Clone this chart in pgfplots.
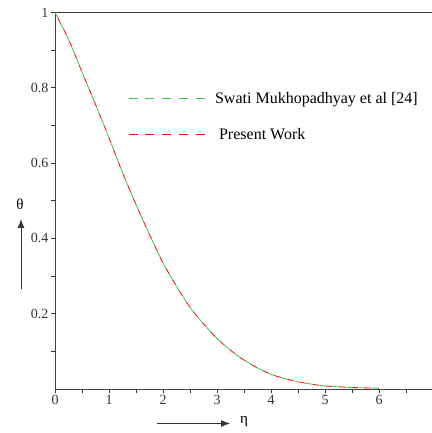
\documentclass[border=0pt]{standalone}
\usepackage{pgfplots}
\pgfplotsset{compat=1.18}
\usepackage{fontspec}
\setmainfont{Liberation Serif}
\usetikzlibrary{arrows.meta}

\definecolor{refgreen}{RGB}{40,210,60}
\definecolor{refred}{RGB}{255,0,0}

% temperature profile theta(eta)
\pgfplotstableread{
eta theta
0.00 1.000
0.25 0.929
0.50 0.842
0.75 0.756
1.00 0.667
1.25 0.575
1.50 0.490
1.75 0.410
2.00 0.335
2.25 0.273
2.50 0.217
2.75 0.173
3.00 0.134
3.25 0.103
3.50 0.077
3.75 0.056
4.00 0.039
4.25 0.028
4.50 0.019
4.75 0.013
5.00 0.008
5.50 0.004
6.00 0.002
}\profile

\begin{document}
\begin{tikzpicture}
\useasboundingbox (0pt,0pt) rectangle (431pt,433pt);
\begin{axis}[
  at={(55pt,44pt)}, anchor=south west,
  x=54pt, y=376.5pt,
  xmin=0, xmax=7, ymin=0, ymax=1,
  axis line style={black!75, line width=0.9pt},
  xtick={0,1,2,3,4,5,6},
  ytick={0.2,0.4,0.6,0.8,1},
  minor xtick={0.5,1.5,2.5,3.5,4.5,5.5,6.5},
  minor ytick={0.1,0.3,0.5,0.7,0.9},
  xtick pos=bottom, ytick pos=left,
  tick align=outside,
  major tick length=4pt, minor tick length=4pt,
  every tick/.style={black!80, line width=0.8pt},
  tick label style={font=\fontsize{14}{16}\selectfont, text=black!80},
  /pgf/number format/assume math mode=true,
  xticklabel style={yshift=1pt},
  yticklabel style={xshift=1pt},
  clip=false,
  legend style={draw=none, fill=none, at={(73pt,298.5pt)}, anchor=north west,
    font=\fontsize{16}{18}\selectfont, row sep=19pt, inner sep=0pt,
    legend cell align=left},
  legend image code/.code={\draw[#1, line width=1pt, dash pattern=on 9pt off 7.7pt, dash phase=0pt] (0pt,0pt) -- (80pt,0pt); \path (84pt,0pt);},
]
\addplot[refgreen, line width=0.8pt, dash pattern=on 7pt off 6pt, smooth, tension=0.4] table[x=eta,y=theta] {\profile};
\addlegendentry{Swati Mukhopadhyay et al [24]}
\addplot[refred, line width=0.8pt, dash pattern=on 6pt off 7pt, dash phase=6.5pt, smooth, tension=0.4] table[x=eta,y=theta] {\profile};
\addlegendentry{\hspace{4pt}Present Work}
\end{axis}
% axis names with direction arrows
\draw[-{Latex[length=9pt,width=7pt]}, line width=0.9pt, black!80] (21pt,144pt) -- (21pt,214pt);
\node[font=\fontsize{15}{17}\selectfont] at (20pt,229pt) {θ};
\draw[-{Latex[length=9pt,width=7pt]}, line width=0.9pt, black!80] (157pt,9.5pt) -- (230pt,9.5pt);
\node[font=\fontsize{15}{17}\selectfont] at (244pt,11pt) {η};
\end{tikzpicture}
\end{document}
